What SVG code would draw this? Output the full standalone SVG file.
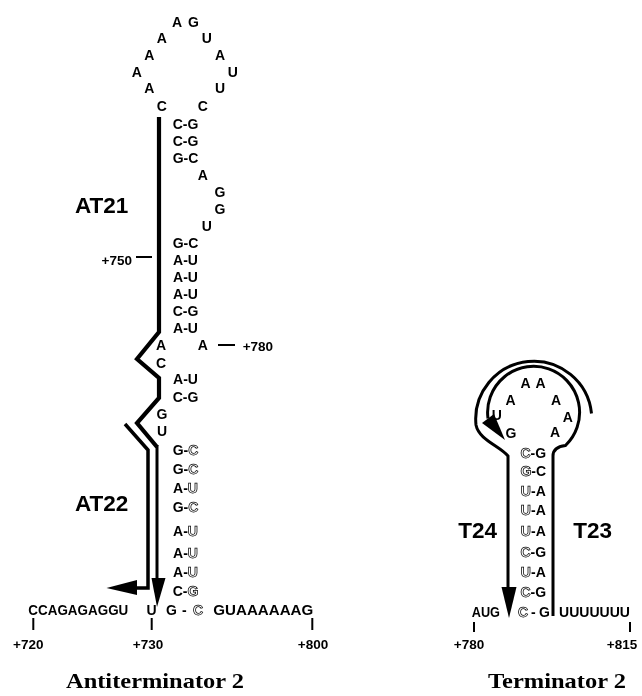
<svg xmlns="http://www.w3.org/2000/svg" width="642" height="696" viewBox="0 0 642 696">
<style>
text{font-family:"Liberation Sans",Arial,sans-serif;font-weight:bold;fill:#000}
.s{font-size:14px}
.m{text-anchor:middle}
.o{fill:#fff;stroke:#000;stroke-width:0.75}
.n{font-size:13.5px}
.lab{font-size:22.5px}
.ttl{font-family:"Liberation Serif","Times New Roman",serif;font-size:22px}
.ln{fill:none;stroke:#000}
.tk{stroke:#000;stroke-width:2}
</style>
<defs>
<filter id="gray" x="0" y="0" width="1" height="1"><feOffset dx="0" dy="0"/></filter>
</defs>
<rect width="642" height="696" fill="#fff"/>
<g filter="url(#gray)">
<rect width="642" height="696" fill="#fff"/>
<g id="antiterminator-loop">
<text x="177" y="27" class="s m">A</text>
<text x="193.5" y="27" class="s m">G</text>
<text x="161.7" y="43.3" class="s m">A</text>
<text x="206.7" y="43.3" class="s m">U</text>
<text x="149.3" y="60" class="s m">A</text>
<text x="220" y="60" class="s m">A</text>
<text x="136.7" y="76.7" class="s m">A</text>
<text x="232.7" y="76.7" class="s m">U</text>
<text x="149.3" y="93.3" class="s m">A</text>
<text x="220" y="93.3" class="s m">U</text>
<text x="161.7" y="111" class="s m">C</text>
<text x="202.7" y="111" class="s m">C</text>
</g>

<g id="antiterminator-stem">
<text x="185.5" y="129" class="s m">C-G</text>
<text x="185.5" y="146" class="s m">C-G</text>
<text x="185.5" y="163" class="s m">G-C</text>
<text x="202.7" y="180" class="s m">A</text>
<text x="220" y="197" class="s m">G</text>
<text x="220" y="214" class="s m">G</text>
<text x="206.7" y="231" class="s m">U</text>
<text x="185.5" y="248" class="s m">G-C</text>
<text x="185.5" y="265" class="s m">A-U</text>
<text x="185.5" y="282" class="s m">A-U</text>
<text x="185.5" y="299" class="s m">A-U</text>
<text x="185.5" y="316" class="s m">C-G</text>
<text x="185.5" y="333" class="s m">A-U</text>
<text x="161" y="350" class="s m">A</text>
<text x="202.7" y="350" class="s m">A</text>
<text x="161" y="368" class="s m">C</text>
<text x="185.5" y="384" class="s m">A-U</text>
<text x="185.5" y="402" class="s m">C-G</text>
<text x="162" y="419" class="s m">G</text>
<text x="162" y="436" class="s m">U</text>
<text x="185.5" y="455" class="s m">G-<tspan class="o">C</tspan></text>
<text x="185.5" y="474" class="s m">G-<tspan class="o">C</tspan></text>
<text x="185.5" y="493" class="s m">A-<tspan class="o">U</tspan></text>
<text x="185.5" y="512" class="s m">G-<tspan class="o">C</tspan></text>
<text x="185.5" y="536" class="s m">A-<tspan class="o">U</tspan></text>
<text x="185.5" y="558" class="s m">A-<tspan class="o">U</tspan></text>
<text x="185.5" y="577" class="s m">A-<tspan class="o">U</tspan></text>
<text x="185.5" y="596" class="s m">C-<tspan class="o">G</tspan></text>
</g>

<g id="antiterminator-sequence">
<text x="28.3" y="615" class="s" textLength="100" lengthAdjust="spacingAndGlyphs">CCAGAGAGGU</text>
<text x="146.5" y="615" class="s">U</text>
<text x="166" y="615" class="s">G</text>
<text x="182" y="615" class="s">-</text>
<text x="193" y="615" class="s o">C</text>
<text x="213.3" y="615" class="s" textLength="100" lengthAdjust="spacingAndGlyphs">GUAAAAAAG</text>
<line x1="33.3" y1="618" x2="33.3" y2="630" class="tk"/>
<line x1="151.7" y1="618" x2="151.7" y2="630" class="tk"/>
<line x1="312.3" y1="618" x2="312.3" y2="630" class="tk"/>
<text x="28.3" y="649" class="n m">+720</text>
<text x="148" y="649" class="n m">+730</text>
<text x="313" y="649" class="n m">+800</text>
<line x1="136" y1="257" x2="152" y2="257" class="tk"/>
<text x="132" y="264.5" class="n" text-anchor="end">+750</text>
<line x1="218" y1="345" x2="235" y2="345" class="tk"/>
<text x="242.7" y="350.5" class="n">+780</text>
</g>

<g id="AT21">
<text x="75" y="213" class="lab">AT21</text>
</g>
<g id="AT22">
<text x="75" y="511" class="lab">AT22</text>
</g>

<g id="terminator-loop">
<text x="525.5" y="388" class="s m">A</text>
<text x="540.5" y="388" class="s m">A</text>
<text x="510.5" y="404.5" class="s m">A</text>
<text x="556" y="404.5" class="s m">A</text>
<text x="496.7" y="420" class="s m">U</text>
<text x="567.8" y="422" class="s m">A</text>
<text x="511" y="438" class="s m">G</text>
<text x="555" y="437" class="s m">A</text>
</g>

<g id="terminator-stem">
<text x="533.3" y="457.5" class="s m"><tspan class="o">C</tspan>-G</text>
<text x="533.3" y="476" class="s m"><tspan class="o">G</tspan>-C</text>
<text x="533.3" y="496" class="s m"><tspan class="o">U</tspan>-A</text>
<text x="533.3" y="515" class="s m"><tspan class="o">U</tspan>-A</text>
<text x="533.3" y="536" class="s m"><tspan class="o">U</tspan>-A</text>
<text x="533.3" y="557" class="s m"><tspan class="o">C</tspan>-G</text>
<text x="533.3" y="577" class="s m"><tspan class="o">U</tspan>-A</text>
<text x="533.3" y="596.5" class="s m"><tspan class="o">C</tspan>-G</text>
</g>

<g id="terminator-sequence">
<text x="471.7" y="617" class="s" textLength="28.3" lengthAdjust="spacingAndGlyphs">AUG</text>
<text x="518" y="617" class="s o">C</text>
<text x="531" y="617" class="s">-</text>
<text x="539" y="617" class="s">G</text>
<text x="559" y="617" class="s" textLength="71" lengthAdjust="spacingAndGlyphs">UUUUUUU</text>
<line x1="474" y1="622" x2="474" y2="632" class="tk"/>
<line x1="630" y1="622" x2="630" y2="632" class="tk"/>
<text x="469" y="649" class="n m">+780</text>
<text x="622" y="649" class="n m">+815</text>
</g>

<g id="T24">
<text x="458.3" y="538" class="lab">T24</text>
</g>
<g id="T23">
<text x="573.3" y="538" class="lab">T23</text>
</g>

<g id="connectors">
<path class="ln" stroke-width="4.2" d="M159,117 V332 L137,359 L159,378 V398 L137,423 L157,447"/>
<path class="ln" stroke-width="3" d="M157,445 V582"/>
<polygon points="151.5,578 165.5,578 157,607" fill="#000"/>
<path class="ln" stroke-width="3.5" d="M125,424 L148,450 V588 H134"/>
<polygon points="106.5,588 137,580 137,595" fill="#000"/>
<path class="ln" stroke-width="3" d="M553,616 V456 Q553,447 565.5,445.5 A46,46 0 1 0 488,418.5"/>
<polygon points="482,423 494,414 505,440" fill="#000"/>
<path class="ln" stroke-width="3" d="M591.5,413.5 A58,58 0 1 0 476,425 C479,440 500,446 508,456 V590"/>
<polygon points="501.5,587 516.5,587 509,618" fill="#000"/>
</g>

<g id="titles">
<text x="66" y="688" class="ttl" textLength="178" lengthAdjust="spacingAndGlyphs">Antiterminator 2</text>
<text x="488" y="688" class="ttl" textLength="138" lengthAdjust="spacingAndGlyphs">Terminator 2</text>
</g>
</g>
</svg>
